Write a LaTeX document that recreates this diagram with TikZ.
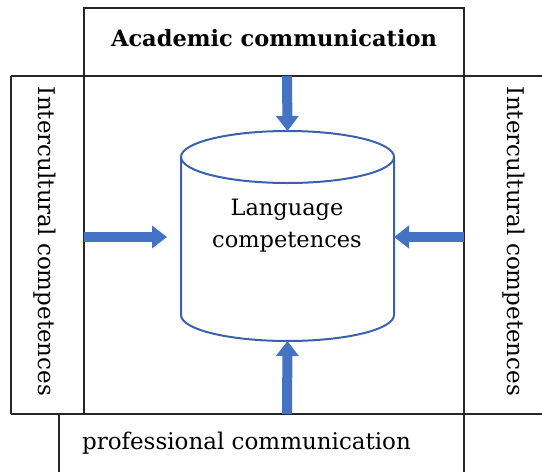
\documentclass[tikz,border=0pt]{standalone}
\usepackage{fontspec}
\setmainfont{DejaVu Serif}
\usetikzlibrary{arrows.meta}
\definecolor{arrblue}{RGB}{68,114,196}
\definecolor{cylblue}{RGB}{58,98,172}
\begin{document}
\begin{tikzpicture}[x=1pt,y=-1pt,
  frame/.style={draw=black!85,line width=1.2pt},
  lbl/.style={font=\fontsize{23}{32}\selectfont,inner sep=0pt,align=center},
  bigarrow/.style={draw=arrblue,line width=10pt,-{Triangle[width=22pt,length=15pt]}}]
\useasboundingbox (0,0) rectangle (542,472);
% frames
\draw[frame] (84,76) -- (84,8) -- (464,8) -- (464,472);
\draw[frame] (11,76) -- (560,76);
\draw[frame] (11,414) -- (560,414);
\draw[frame] (11,76) -- (11,414);
\draw[frame] (84,76) -- (84,414);
\draw[frame] (59,414) -- (59,480);
% cylinder
\coordinate (ctop) at (287.5,131);
\coordinate (cbot) at (287.5,341);
\coordinate (cleft) at (181,237);
\coordinate (cright) at (394,237);
\draw[cylblue,line width=2pt,fill=white]
  (181,157) -- (181,315) arc[start angle=180,end angle=0,x radius=106.5,y radius=26] -- (394,157)
  arc[start angle=0,end angle=-180,x radius=106.5,y radius=26] -- cycle;
\draw[cylblue,line width=2pt] (181,157) arc[start angle=180,end angle=0,x radius=106.5,y radius=26];
% texts
\node[lbl,font=\fontsize{22.5}{28}\selectfont\bfseries] (acad) at (274,38) {Academic communication};
\node[lbl,font=\fontsize{22.5}{32}\selectfont] (lang) at (287,226) {Language\\competences};
\node[lbl] (prof) at (246.5,443) {professional communication};
\node[lbl,rotate=-90] (icl) at (45,241.5) {Intercultural competences};
\node[lbl,rotate=-90] (icr) at (514,241.5) {Intercultural competences};
% arrow anchors
\coordinate (atop) at (287,76);
\coordinate (abot) at (287,414);
\coordinate (aleft) at (84,237);
\coordinate (aright) at (464,237);
\coordinate (lend) at (167,237);
\draw[bigarrow] (atop) -- (ctop);
\draw[bigarrow] (abot) -- (cbot);
\draw[bigarrow] (aleft) -- (lend);
\draw[bigarrow] (aright) -- (cright);
\end{tikzpicture}
\end{document}
